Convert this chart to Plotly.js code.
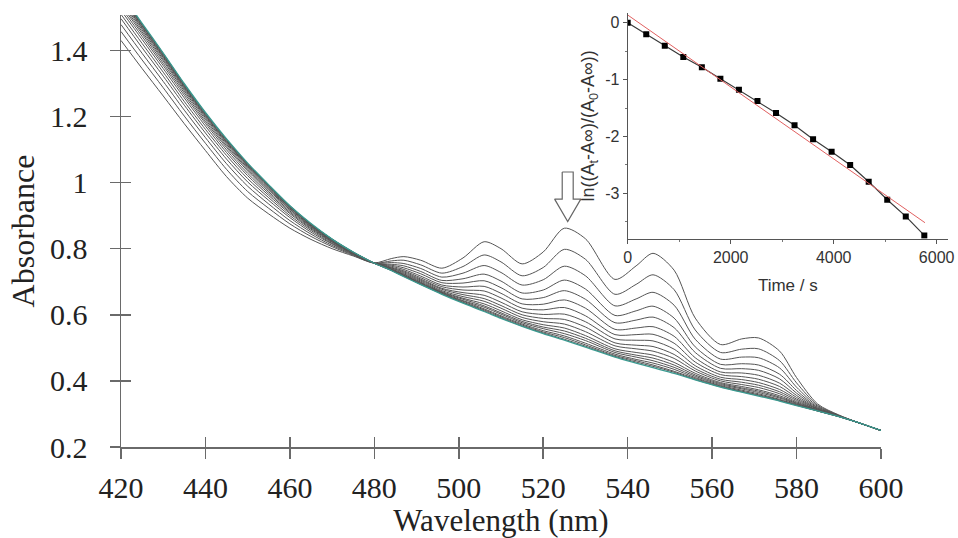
<!DOCTYPE html>
<html><head><meta charset="utf-8">
<script src="https://cdn.plot.ly/plotly-3.0.1.min.js"></script>
<style>html,body{margin:0;padding:0;background:#fff}#chart{width:958px;height:538px}</style>
</head><body><div id="chart"></div>
<script>
// Wavelength grid (nm)
const wavelength = [420,425,430,435,440,445,450,455,460,465,470,475,480,484,487,491,496,501,506,510,515,520,525,530,537,542,546,551,556,562,567,571,576,580,585,590,595,600];

const abs_t0000 = [1.430,1.345,1.262,1.178,1.097,1.018,0.953,0.905,0.862,0.828,0.800,0.778,0.757,0.770,0.776,0.765,0.741,0.772,0.821,0.800,0.754,0.790,0.862,0.830,0.707,0.748,0.786,0.735,0.590,0.510,0.527,0.530,0.490,0.410,0.330,0.297,0.272,0.250];
const abs_t0360 = [1.457,1.371,1.287,1.201,1.119,1.040,0.973,0.922,0.875,0.837,0.806,0.780,0.756,0.763,0.765,0.751,0.726,0.746,0.781,0.760,0.718,0.743,0.798,0.768,0.662,0.692,0.721,0.676,0.554,0.486,0.496,0.497,0.461,0.394,0.326,0.296,0.272,0.250];
const abs_t0720 = [1.478,1.391,1.306,1.219,1.136,1.057,0.989,0.935,0.885,0.844,0.810,0.782,0.756,0.758,0.755,0.740,0.714,0.726,0.749,0.728,0.690,0.706,0.747,0.718,0.627,0.648,0.668,0.629,0.526,0.466,0.472,0.470,0.439,0.381,0.323,0.295,0.272,0.250];
const abs_t1080 = [1.496,1.408,1.322,1.234,1.150,1.071,1.002,0.946,0.894,0.850,0.814,0.783,0.756,0.753,0.748,0.731,0.704,0.709,0.723,0.702,0.666,0.675,0.705,0.678,0.598,0.612,0.626,0.590,0.503,0.450,0.452,0.448,0.420,0.371,0.320,0.295,0.272,0.250];
const abs_t1440 = [1.509,1.421,1.334,1.245,1.161,1.082,1.012,0.954,0.900,0.855,0.816,0.785,0.756,0.750,0.742,0.724,0.697,0.696,0.703,0.682,0.648,0.652,0.673,0.647,0.576,0.584,0.593,0.561,0.486,0.438,0.437,0.432,0.406,0.363,0.318,0.294,0.272,0.250];
const abs_t1800 = [1.521,1.433,1.345,1.256,1.171,1.091,1.021,0.961,0.906,0.859,0.819,0.786,0.756,0.747,0.737,0.717,0.690,0.684,0.686,0.665,0.633,0.632,0.645,0.620,0.556,0.560,0.564,0.535,0.470,0.427,0.424,0.417,0.393,0.356,0.316,0.294,0.272,0.250];
const abs_t2160 = [1.530,1.442,1.354,1.264,1.179,1.099,1.028,0.967,0.910,0.862,0.821,0.786,0.756,0.744,0.733,0.712,0.685,0.675,0.672,0.651,0.620,0.615,0.622,0.597,0.540,0.540,0.541,0.514,0.457,0.419,0.413,0.405,0.383,0.350,0.315,0.294,0.272,0.250];
const abs_t2520 = [1.538,1.450,1.361,1.271,1.185,1.106,1.035,0.972,0.914,0.865,0.822,0.787,0.756,0.742,0.730,0.708,0.680,0.667,0.659,0.638,0.609,0.601,0.602,0.579,0.527,0.523,0.521,0.496,0.446,0.411,0.404,0.395,0.374,0.345,0.314,0.293,0.272,0.250];
const abs_t2880 = [1.545,1.456,1.368,1.277,1.191,1.111,1.040,0.977,0.918,0.867,0.824,0.788,0.756,0.741,0.727,0.705,0.677,0.661,0.649,0.628,0.600,0.589,0.586,0.563,0.515,0.508,0.504,0.480,0.437,0.405,0.396,0.387,0.367,0.341,0.312,0.293,0.272,0.250];
const abs_t3240 = [1.551,1.462,1.373,1.282,1.196,1.116,1.044,0.980,0.920,0.869,0.825,0.788,0.756,0.739,0.724,0.702,0.673,0.655,0.641,0.620,0.592,0.579,0.572,0.549,0.506,0.497,0.490,0.468,0.430,0.400,0.389,0.380,0.361,0.337,0.312,0.293,0.272,0.250];
const abs_t3600 = [1.556,1.467,1.378,1.286,1.200,1.120,1.048,0.983,0.923,0.871,0.826,0.788,0.756,0.738,0.722,0.699,0.670,0.650,0.633,0.612,0.585,0.570,0.560,0.537,0.497,0.486,0.478,0.456,0.423,0.395,0.383,0.373,0.355,0.334,0.311,0.293,0.272,0.250];
const abs_t3960 = [1.560,1.470,1.381,1.289,1.203,1.123,1.051,0.986,0.925,0.872,0.827,0.789,0.756,0.737,0.720,0.697,0.668,0.647,0.627,0.606,0.580,0.563,0.551,0.529,0.491,0.478,0.469,0.448,0.418,0.392,0.379,0.369,0.351,0.332,0.310,0.293,0.272,0.250];
const abs_t4320 = [1.563,1.474,1.384,1.292,1.205,1.125,1.053,0.988,0.926,0.873,0.828,0.789,0.756,0.736,0.719,0.695,0.667,0.643,0.623,0.602,0.576,0.558,0.543,0.522,0.486,0.472,0.461,0.441,0.414,0.389,0.376,0.365,0.348,0.330,0.310,0.292,0.272,0.250];
const abs_t4680 = [1.566,1.476,1.387,1.294,1.208,1.128,1.055,0.990,0.928,0.874,0.828,0.789,0.756,0.735,0.718,0.694,0.665,0.641,0.618,0.597,0.572,0.552,0.536,0.514,0.481,0.465,0.454,0.435,0.410,0.386,0.372,0.361,0.344,0.328,0.309,0.292,0.272,0.250];
const abs_t5040 = [1.568,1.479,1.389,1.296,1.210,1.130,1.057,0.991,0.929,0.875,0.829,0.789,0.756,0.735,0.717,0.692,0.664,0.638,0.615,0.594,0.569,0.548,0.531,0.509,0.477,0.461,0.448,0.429,0.407,0.384,0.369,0.358,0.342,0.327,0.309,0.292,0.272,0.250];
const abs_t5400 = [1.570,1.480,1.391,1.298,1.211,1.131,1.058,0.992,0.930,0.875,0.829,0.790,0.756,0.734,0.716,0.692,0.663,0.637,0.612,0.591,0.566,0.545,0.526,0.505,0.474,0.457,0.444,0.426,0.404,0.382,0.367,0.356,0.340,0.326,0.309,0.292,0.272,0.250];
const abs_t5760 = [1.572,1.482,1.392,1.299,1.212,1.132,1.059,0.993,0.930,0.876,0.829,0.790,0.756,0.734,0.715,0.691,0.662,0.635,0.610,0.589,0.565,0.543,0.523,0.502,0.472,0.454,0.440,0.423,0.403,0.381,0.366,0.354,0.339,0.325,0.309,0.292,0.272,0.250];

const spectra = [abs_t0000,abs_t0360,abs_t0720,abs_t1080,abs_t1440,abs_t1800,abs_t2160,abs_t2520,abs_t2880,abs_t3240,abs_t3600,abs_t3960,abs_t4320,abs_t4680,abs_t5040,abs_t5400,abs_t5760];

// Inset: kinetics
const times = [0,360,720,1080,1440,1800,2160,2520,2880,3240,3600,3960,4320,4680,5040,5400,5760];
const lnRatio = [0,-0.205,-0.404,-0.603,-0.785,-0.984,-1.178,-1.377,-1.588,-1.804,-2.050,-2.267,-2.501,-2.794,-3.111,-3.404,-3.738];
const fitTime = [0, 5773];
const fitLn = [0.135, -3.515];

// Tick labels
const insetYTickVals = [-3,-2,-1,0];
const insetYTickText = ['-3','-2','-1','0'];

// Arrow outline (wavelength, absorbance)
const arrowX = [524.5,527.1,527.1,528.9,525.8,522.7,524.5,524.5];
const arrowY = [1.032,1.032,0.950,0.950,0.882,0.950,0.950,1.032];

const serif = 'Liberation Serif';
const sans = 'Liberation Sans';
const axCol = '#6a6a6a';

const traces = [];
spectra.forEach((s, i) => {
  const last = i === spectra.length - 1;
  traces.push({
    x: wavelength, y: s, type: 'scatter', mode: 'lines',
    line: {color: last ? '#3a9a90' : '#555555', width: last ? 1.3 : 1, shape: 'spline', smoothing: 0.8},
    xaxis: 'x', yaxis: 'y', showlegend: false, hoverinfo: 'skip'
  });
});
traces.push({x: arrowX, y: arrowY, type: 'scatter', mode: 'lines', fill: 'toself', fillcolor: '#ffffff',
  line: {color: '#666', width: 1.2}, xaxis: 'x', yaxis: 'y', showlegend: false, hoverinfo: 'skip'});
// overlay axes for crossing ticks
traces.push({x: [], y: [], type: 'scatter', xaxis: 'x3', yaxis: 'y', showlegend: false});
traces.push({x: [], y: [], type: 'scatter', xaxis: 'x', yaxis: 'y3', showlegend: false});
// inset
traces.push({x: times, y: lnRatio, type: 'scatter', mode: 'lines+markers',
  line: {color: '#3a3a3a', width: 1.2}, marker: {symbol: 'square', size: 6, color: '#000'},
  xaxis: 'x2', yaxis: 'y2', showlegend: false});
traces.push({x: fitTime, y: fitLn, type: 'scatter', mode: 'lines',
  line: {color: '#e06060', width: 1}, xaxis: 'x2', yaxis: 'y2', showlegend: false});

const xdom = [121/958, 881/958];
const ydom = [(538-447)/538, (538-15)/538];
const mainX = {domain: xdom, anchor: 'y', range: [420, 600], tick0: 420, dtick: 20,
  showgrid: false, zeroline: false, showline: true, linecolor: axCol, linewidth: 1.5,
  ticks: 'outside', ticklen: 10, tickwidth: 1.5, tickcolor: axCol, ticklabelstandoff: 3,
  tickfont: {family: serif, size: 30, color: '#222'},
  title: {text: 'Wavelength (nm)', font: {family: serif, size: 31, color: '#222'}, standoff: 0}};
const mainY = {domain: ydom, anchor: 'x', range: [0.2, 1.507], tick0: 0.2, dtick: 0.2,
  showgrid: false, zeroline: false, showline: true, linecolor: axCol, linewidth: 1.5,
  ticks: 'outside', ticklen: 10, tickwidth: 1.5, tickcolor: axCol, ticklabelstandoff: 16,
  tickfont: {family: serif, size: 30, color: '#222'},
  title: {text: 'Absorbance', font: {family: serif, size: 32, color: '#222'}, standoff: 6}};

const layout = {
  width: 958, height: 538, margin: {l: 0, r: 0, t: 0, b: 0},
  paper_bgcolor: '#fff', plot_bgcolor: 'rgba(0,0,0,0)', showlegend: false,
  xaxis: mainX, yaxis: mainY,
  xaxis3: {overlaying: 'x', anchor: 'y', range: [420, 600], tick0: 420, dtick: 20, showgrid: false, zeroline: false,
    showline: false, ticks: 'inside', ticklen: 10, tickwidth: 1.5, tickcolor: axCol, showticklabels: false},
  yaxis3: {overlaying: 'y', anchor: 'x', range: [0.2, 1.507], tick0: 0.2, dtick: 0.2, showgrid: false, zeroline: false,
    showline: false, ticks: 'inside', ticklen: 10, tickwidth: 1.5, tickcolor: axCol, showticklabels: false},
  xaxis2: {domain: [627.7/958, 948/958], anchor: 'y2', range: [0, 6220], tick0: 0, dtick: 2000,
    showgrid: false, zeroline: false, showline: true, linecolor: '#555', linewidth: 1,
    ticks: 'outside', ticklen: 4, tickcolor: '#555', ticklabelstandoff: 0,
    minor: {dtick: 1000, tick0: 0, ticks: 'outside', ticklen: 2, tickcolor: '#777'},
    tickfont: {family: sans, size: 16, color: '#333'},
    title: {text: 'Time / s', font: {family: sans, size: 17, color: '#333'}, standoff: 14}},
  yaxis2: {domain: [(538-238.7)/538, (538-13)/538], anchor: 'x2', range: [-3.796, 0.17],
    tickvals: insetYTickVals, ticktext: insetYTickText,
    showgrid: false, zeroline: false, showline: true, linecolor: '#555', linewidth: 1,
    ticks: 'outside', ticklen: 4, tickcolor: '#555',
    minor: {dtick: 0.5, tick0: 0, ticks: 'outside', ticklen: 2, tickcolor: '#777'},
    tickfont: {family: sans, size: 16, color: '#333'},
    title: {text: 'ln((A<sub>t</sub>-A∞)/(A<sub>0</sub>-A∞))', font: {family: sans, size: 18, color: '#333'}, standoff: 5}}
};

Plotly.newPlot('chart', traces, layout, {displayModeBar: false, staticPlot: true});
</script></body></html>
